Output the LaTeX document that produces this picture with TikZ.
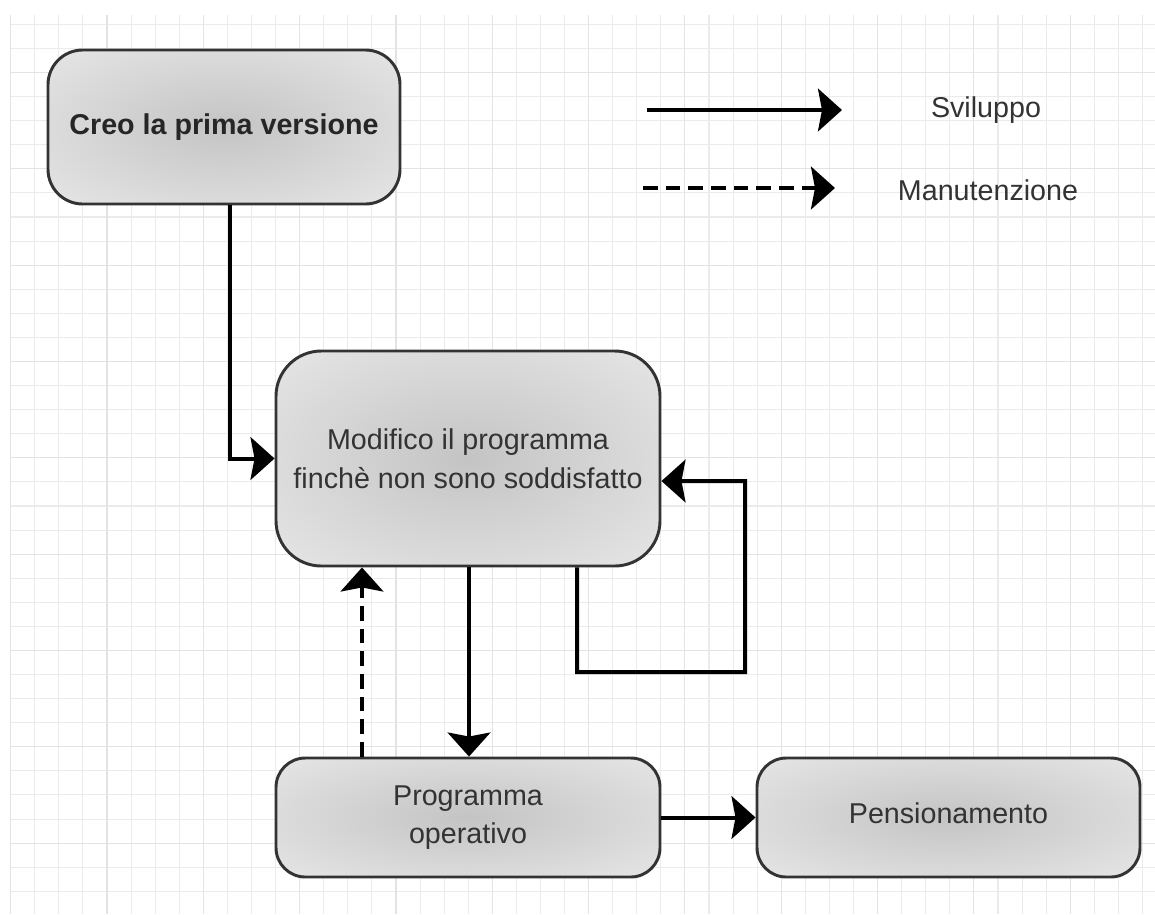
\documentclass[tikz,border=0pt]{standalone}
\usepackage{fontspec}
\setmainfont{Liberation Sans}
\usetikzlibrary{arrows.meta,calc}
\definecolor{gridminor}{HTML}{EBEBEB}
\definecolor{gridmajor}{HTML}{E3E3E3}
\definecolor{boxin}{HTML}{C4C4C4}
\definecolor{boxout}{HTML}{E8E8E8}
\definecolor{boxline}{HTML}{333333}
\definecolor{txt}{HTML}{333333}
\pgfdeclareradialshading{boxshade}{\pgfpoint{0bp}{0bp}}{color(0bp)=(boxin); color(38bp)=(boxout); color(50bp)=(boxout)}
\tikzset{
  box/.style={draw=boxline, line width=2.2pt, shading=boxshade, rounded corners=#1,
    align=center, text=txt, font=\fontsize{21.5}{29}\selectfont, inner sep=0pt},
  flow/.style={draw=black, line width=3pt, line cap=butt,
    -{Stealth[length=18pt,width=32pt,inset=3pt]}},
  maint/.style={flow, dash pattern=on 11pt off 6pt},
  legendtext/.style={text=txt, font=\fontsize{21.5}{29}\selectfont, inner sep=0pt}
}
\begin{document}
\begin{tikzpicture}[x=0.75pt,y=-0.75pt]
\useasboundingbox (0,0) rectangle (1155,914);
\fill[white] (0,0) rectangle (1155,914);
% grid
\foreach \i in {0,...,47} {\draw[gridminor, line width=0.8pt] ({10.7+24.08*\i},15) -- ({10.7+24.08*\i},914);}
\foreach \k in {1,...,37} {\draw[gridminor, line width=0.8pt] (10,{0.3+24.08*\k}) -- (1155,{0.3+24.08*\k});}
\foreach \i in {0,4,...,44} {\draw[gridmajor, line width=0.8pt] ({10.7+24.08*\i},15) -- ({10.7+24.08*\i},914);}
\foreach \k in {3,7,...,35} {\draw[gridmajor, line width=0.8pt] (10,{0.3+24.08*\k}) -- (1155,{0.3+24.08*\k});}

% boxes
\node[box=26pt, minimum width=264pt, minimum height=115.5pt, text=black!85, font=\fontsize{21.5}{29}\selectfont\bfseries]
  (b1) at (224,127) {Creo la prima versione};
\node[box=34pt, minimum width=288pt, minimum height=161.25pt]
  (b2) at (468,458.5) {Modifico il programma\\finchè non sono soddisfatto};
\node[box=22pt, minimum width=288pt, minimum height=89.25pt]
  (b3) at (468,817.5) {Programma\\operativo};
\node[box=22pt, minimum width=287.25pt, minimum height=89.25pt]
  (b4) at (948.5,817.5) {};
\node[text=txt, font=\fontsize{21.5}{29}\selectfont, inner sep=0pt] (b4t) at ([yshift=3pt]b4.center) {Pensionamento};

% connectors
\draw[flow] ([xshift=4.5pt]b1.south) |- (b2.west);
\coordinate (lp1) at (577,672);
\coordinate (lp2) at (745,672);
\coordinate (lp3) at (745,481);
\draw[flow, rounded corners=0pt] ([xshift=81.75pt]b2.south) -- (lp1) -- (lp2) -- (lp3) -- ([yshift=-16.9pt]b2.east);
\draw[flow] ([xshift=0.75pt]b2.south) -- ([xshift=0.75pt]b3.north);
\draw[maint] ([xshift=-79.5pt]b3.north) -- ([xshift=-79.5pt]b2.south);
\draw[flow] (b3.east) -- (b4.west);

% legend
\coordinate (l1a) at (647,110);
\coordinate (l1b) at (842,110);
\coordinate (l2a) at (643,188);
\coordinate (l2b) at (835,188);
\draw[flow] (l1a) -- (l1b);
\draw[maint] (l2a) -- (l2b);
\node[legendtext] (t1) at (986,110) {Sviluppo};
\node[legendtext] (t2) at (988,190) {Manutenzione};
\end{tikzpicture}
\end{document}
